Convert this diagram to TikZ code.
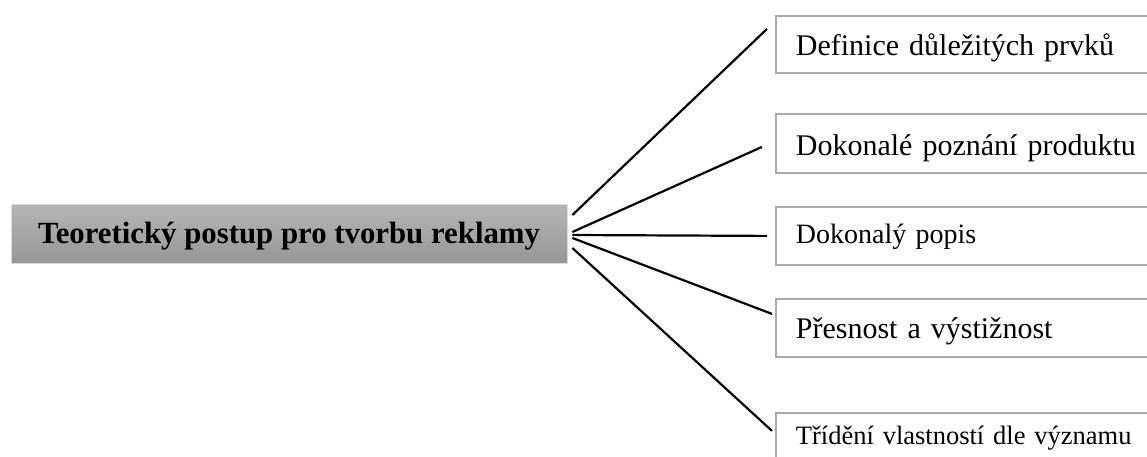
\documentclass[tikz,border=0pt]{standalone}
\usepackage{fontspec}
\setmainfont{Liberation Serif}
\definecolor{boxgray}{HTML}{A9A9A9}
\definecolor{maintop}{HTML}{B6B6B6}
\definecolor{mainbot}{HTML}{969696}
\definecolor{mainedge}{HTML}{DADADA}
\begin{document}
\begin{tikzpicture}[x=1pt,y=-1pt,
  conn/.style={line width=2.2pt, black},
  itembox/.style={draw=boxgray, line width=1.8pt, fill=white, anchor=north west,
    rectangle, minimum width=385pt, text width=345pt, inner xsep=20pt, inner ysep=0pt,
    align=left, text depth=0pt, font=\fontsize{30}{36}\selectfont},
  mainbox/.style={rectangle, draw=mainedge, line width=0.8pt, top color=maintop, bottom color=mainbot,
    minimum width=556pt, minimum height=59pt, inner sep=0pt, text height=19pt, text depth=0pt,
    font=\bfseries\fontsize{30.8}{36}\selectfont}]
\useasboundingbox (0,0) rectangle (1147,456);
\clip (0,0) rectangle (1147,456);

\node[mainbox] (c) at (289,233.5) {Teoretický postup pro tvorbu reklamy};

\node[itembox, minimum height=57pt, text height=23pt] (b1) at (775,15) {Definice důležitých prvků};
\node[itembox, minimum height=59pt, text height=25pt] (b2) at (775,113) {Dokonalé poznání produktu};
\node[itembox, minimum height=58pt, text height=16pt, font=\fontsize{28}{34}\selectfont] (b3) at (775,206) {Dokonalý popis};
\node[itembox, minimum height=58pt, text height=22pt] (b4) at (775,298) {Přesnost a výstižnost};
\node[itembox, minimum height=46pt, text height=18pt, font=\fontsize{26.5}{32}\selectfont] (b5) at (775,412) {Třídění vlastností dle významu};

\draw[conn] ([shift={(5,-18.5)}]c.east) -- ([shift={(-8,-15.5)}]b1.west);
\draw[conn] ([shift={(5,-1.5)}]c.east) -- ([shift={(-13,3.5)}]b2.west);
\draw[conn] ([shift={(5,1.5)}]c.east) -- ([shift={(-8,0)}]b3.west);
\draw[conn] ([shift={(5,4.5)}]c.east) -- ([shift={(-3,-14)}]b4.west);
\draw[conn] ([shift={(5,14.5)}]c.east) -- ([shift={(-3,-5)}]b5.west);
\end{tikzpicture}
\end{document}
